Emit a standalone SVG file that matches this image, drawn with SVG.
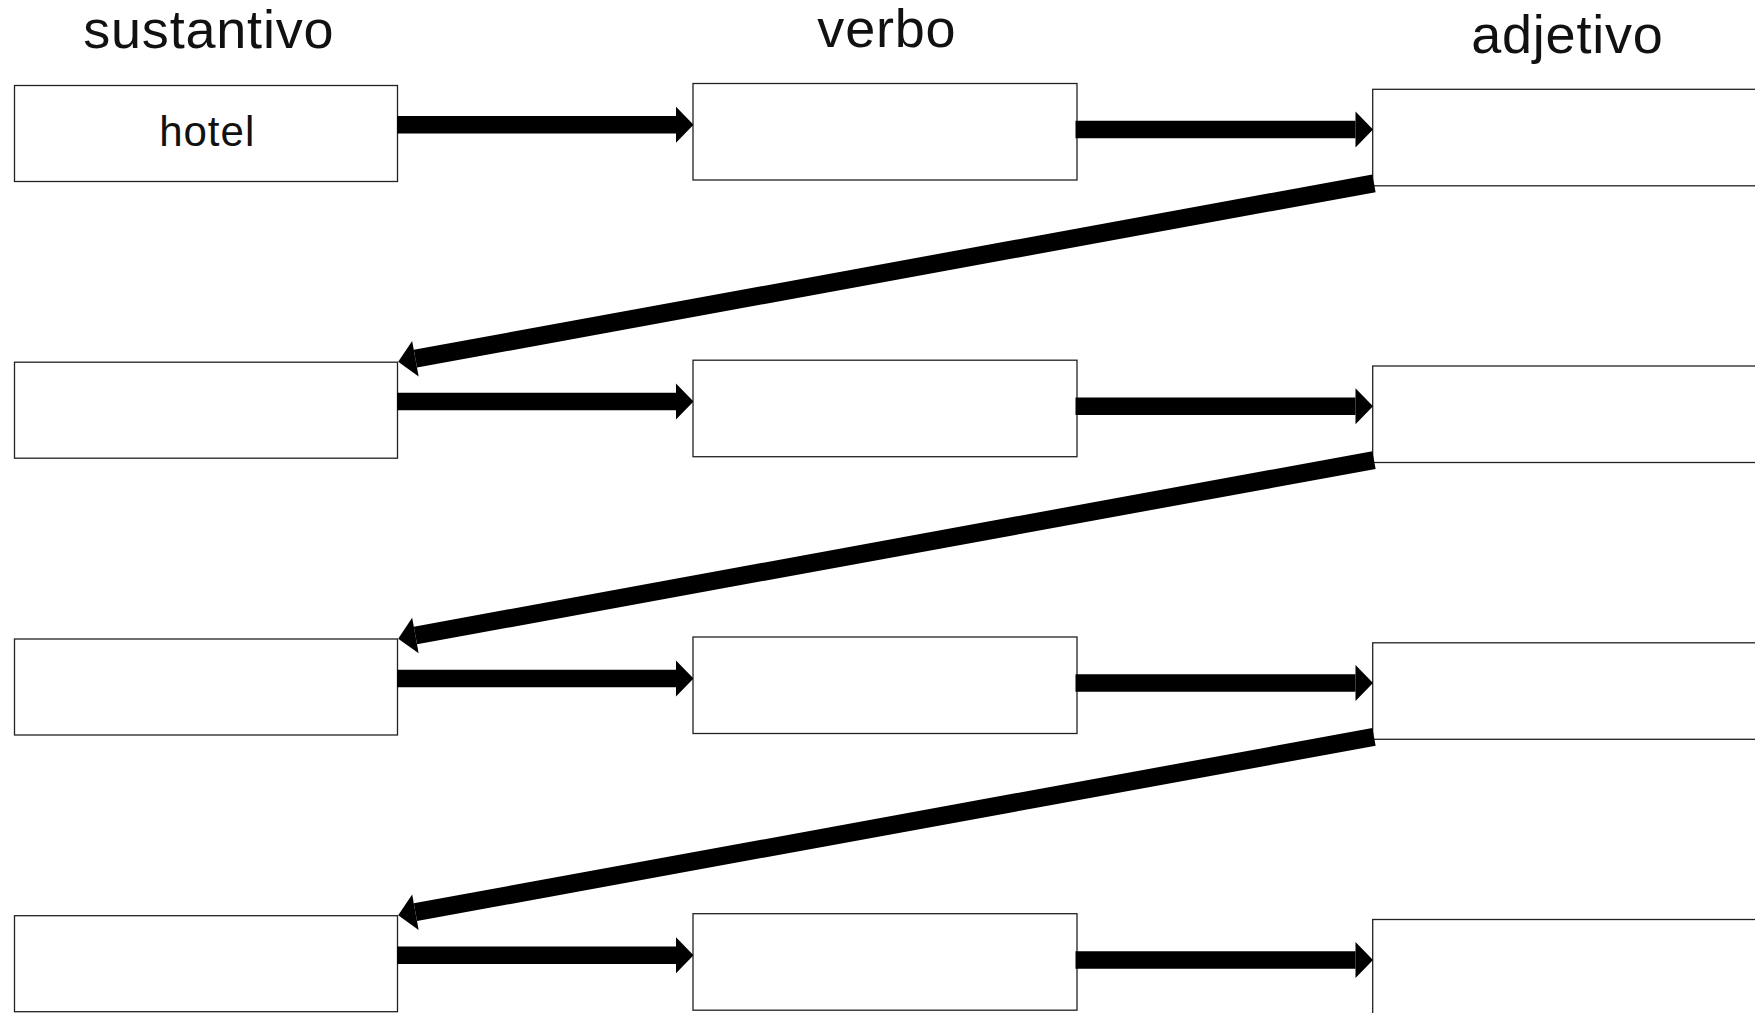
<svg xmlns="http://www.w3.org/2000/svg" width="1755" height="1013" viewBox="0 0 1755 1013">
<style>
.box{fill:#fff;stroke:#222;stroke-width:1.3}
.title{font-family:"Liberation Sans",Arial,sans-serif;font-size:54px;letter-spacing:0.8px;fill:#111;text-anchor:middle}
.lbl{font-family:"Liberation Sans",Arial,sans-serif;font-size:42px;letter-spacing:1px;fill:#111;text-anchor:middle}
.arr{stroke:#000;stroke-width:17.5;fill:none;marker-end:url(#head)}
.diag{stroke-width:18}
</style>
<defs>
<marker id="head" markerUnits="userSpaceOnUse" markerWidth="18" markerHeight="36" viewBox="0 0 18 36" refX="0" refY="18" orient="auto" overflow="visible">
<path d="M0,0 L17.5,18 L0,36 Z" fill="#000"/>
</marker>
</defs>
<rect width="1755" height="1013" fill="#fff"/>
<g id="titles">
<text class="title" x="208.8" y="47.7">sustantivo</text>
<text class="title" x="886.9" y="46.7">verbo</text>
<text class="title" x="1567.4" y="52.7">adjetivo</text>
</g>
<g id="n-r1c1"><rect class="box" x="14.5" y="85.5" width="383" height="96"/><text class="lbl" x="207.2" y="145.7">hotel</text></g>
<g id="n-r1c2"><rect class="box" x="693" y="83.5" width="384" height="96.5"/></g>
<g id="n-r1c3"><rect class="box" x="1372.7" y="89.3" width="400" height="96.5"/></g>
<g id="n-r2c1"><rect class="box" x="14.5" y="362.2" width="383" height="96"/></g>
<g id="n-r2c2"><rect class="box" x="693" y="360.2" width="384" height="96.5"/></g>
<g id="n-r2c3"><rect class="box" x="1372.7" y="366" width="400" height="96.5"/></g>
<g id="n-r3c1"><rect class="box" x="14.5" y="639" width="383" height="96"/></g>
<g id="n-r3c2"><rect class="box" x="693" y="637" width="384" height="96.5"/></g>
<g id="n-r3c3"><rect class="box" x="1372.7" y="642.8" width="400" height="96.5"/></g>
<g id="n-r4c1"><rect class="box" x="14.5" y="915.7" width="383" height="96"/></g>
<g id="n-r4c2"><rect class="box" x="693" y="913.7" width="384" height="96.5"/></g>
<g id="n-r4c3"><rect class="box" x="1372.7" y="919.5" width="400" height="120"/></g>
<g id="connectors">
<line class="arr" x1="397" y1="124.8" x2="676" y2="124.8"/>
<line class="arr" x1="1075.5" y1="129.5" x2="1355.5" y2="129.5"/>
<line class="arr diag" x1="1374" y1="183.3" x2="415.4" y2="358.7"/>
<line class="arr" x1="397" y1="401.6" x2="676" y2="401.6"/>
<line class="arr" x1="1075.5" y1="406.3" x2="1355.5" y2="406.3"/>
<line class="arr diag" x1="1374" y1="460.1" x2="415.4" y2="635.5"/>
<line class="arr" x1="397" y1="678.4" x2="676" y2="678.4"/>
<line class="arr" x1="1075.5" y1="683.1" x2="1355.5" y2="683.1"/>
<line class="arr diag" x1="1374" y1="736.9" x2="415.4" y2="912.2"/>
<line class="arr" x1="397" y1="955.2" x2="676" y2="955.2"/>
<line class="arr" x1="1075.5" y1="959.9" x2="1355.5" y2="959.9"/>
</g>
</svg>
